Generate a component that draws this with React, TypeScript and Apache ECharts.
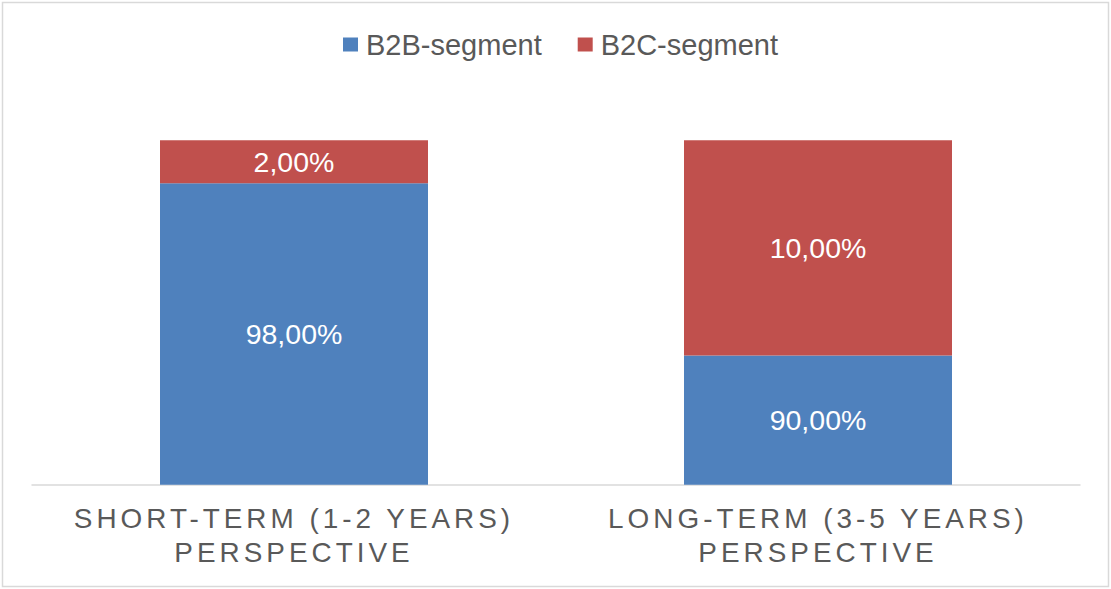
import React, { useEffect, useRef } from "react";
import * as echarts from "echarts";

// Category labels (x axis)
const categories = ["SHORT-TERM (1-2 YEARS)\nPERSPECTIVE", "LONG-TERM (3-5 YEARS)\nPERSPECTIVE"];
const seriesNames = ["B2B-segment", "B2C-segment"];

// Bar heights as drawn in the picture (share of the 100% stack)
const b2bBarShare = [87.5, 37.5];
const b2cBarShare = [12.5, 62.5];

// Data labels printed on the bars
const b2bLabels = ["98,00%", "90,00%"];
const b2cLabels = ["2,00%", "10,00%"];

const FONT = "Arial, 'Liberation Sans', sans-serif";

export default function App() {
  const ref = useRef<HTMLDivElement>(null);

  useEffect(() => {
    document.body.style.margin = "0";
    const chart = echarts.init(ref.current!, null, { renderer: "svg" });
    chart.setOption({
      animation: false,
      backgroundColor: "#ffffff",
      graphic: [
        {
          type: "rect",
          shape: { x: 2.5, y: 2.5, width: 1106, height: 584 },
          style: { fill: "none", stroke: "#d9d9d9", lineWidth: 1.5 },
          silent: true,
        },
      ],
      legend: {
        left: 338,
        top: 25,
        itemWidth: 15,
        itemHeight: 14,
        itemGap: 36,
        icon: "rect",
        textStyle: {
          fontFamily: FONT,
          fontSize: 29,
          color: "#595959",
          padding: [0, 0, 0, 3],
        },
        data: seriesNames,
      },
      grid: { left: 32, right: 31, top: 140.3, bottom: 104.3, containLabel: false },
      xAxis: {
        type: "category",
        data: categories,
        axisLine: { lineStyle: { color: "#d9d9d9", width: 1.5 } },
        axisTick: { show: false },
        axisLabel: {
          fontFamily: FONT,
          fontSize: 27.9,
          lineHeight: 34,
          color: "#595959",
          margin: 17,
          interval: 0,
        },
      },
      yAxis: {
        type: "value",
        min: 0,
        max: 100,
        show: false,
        splitLine: { show: false },
      },
      series: [
        {
          name: seriesNames[0],
          type: "bar",
          stack: "total",
          barWidth: 268,
          data: b2bBarShare,
          itemStyle: { color: "#4F81BD" },
          label: {
            show: true,
            position: "inside",
            color: "#ffffff",
            fontFamily: FONT,
            fontSize: 28.5,
            formatter: (p: any) => b2bLabels[p.dataIndex],
          },
        },
        {
          name: seriesNames[1],
          type: "bar",
          stack: "total",
          barWidth: 268,
          data: b2cBarShare,
          itemStyle: { color: "#C0504D" },
          label: {
            show: true,
            position: "inside",
            color: "#ffffff",
            fontFamily: FONT,
            fontSize: 28.5,
            formatter: (p: any) => b2cLabels[p.dataIndex],
          },
        },
      ],
    });
    return () => chart.dispose();
  }, []);

  return (
    <>
      <style>{`#chartbox text[style*="27.9px"] { letter-spacing: 4px; }`}</style>
      <div id="chartbox" ref={ref} style={{ width: 1111, height: 589 }} />
    </>
  );
}
